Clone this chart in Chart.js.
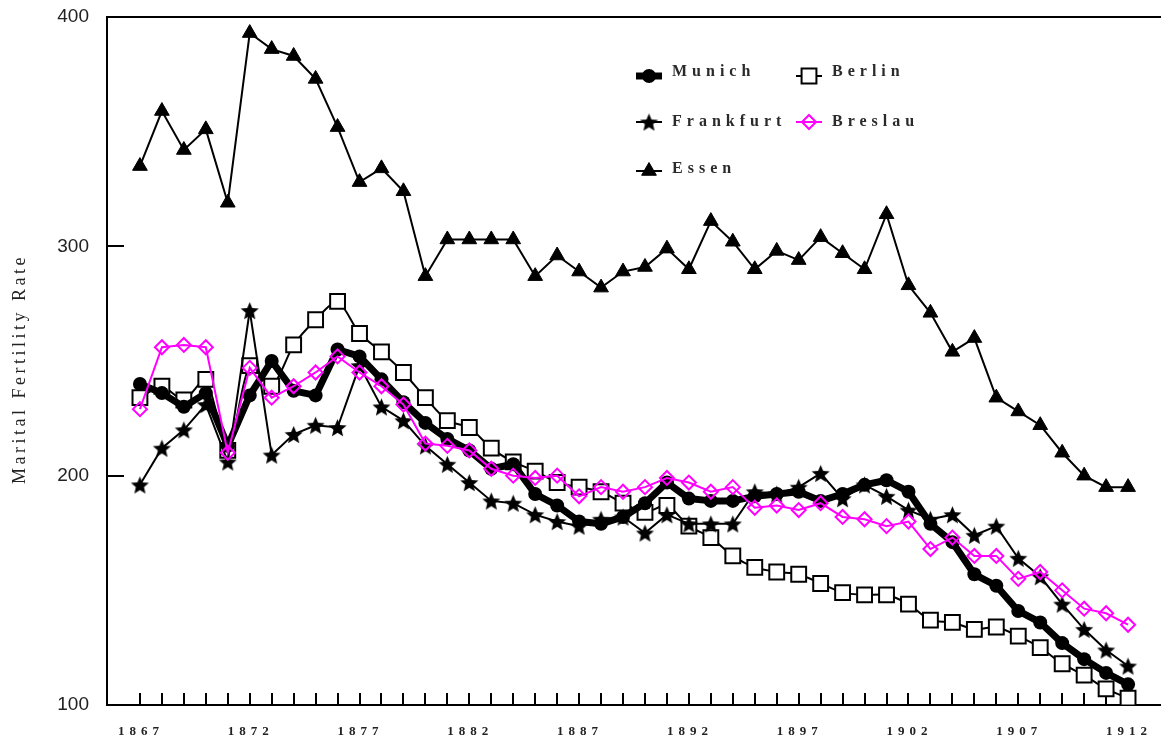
<!DOCTYPE html>
<html lang="en">
<head>
<meta charset="utf-8">
<title>Marital Fertility Rate</title>
<script src="https://cdn.jsdelivr.net/npm/chart.js@4.4.0/dist/chart.umd.min.js"></script>
<style>
  html, body { margin: 0; padding: 0; background: #fff; }
</style>
</head>
<body>
<canvas id="chart" width="1161" height="743"></canvas>
<script>
// years on the x axis, one point per year
const years = [1867, 1868, 1869, 1870, 1871, 1872, 1873, 1874, 1875, 1876, 1877, 1878, 1879, 1880, 1881,
               1882, 1883, 1884, 1885, 1886, 1887, 1888, 1889, 1890, 1891, 1892, 1893, 1894, 1895, 1896,
               1897, 1898, 1899, 1900, 1901, 1902, 1903, 1904, 1905, 1906, 1907, 1908, 1909, 1910, 1911, 1912];
const yearLabels = [1867, 1872, 1877, 1882, 1887, 1892, 1897, 1902, 1907, 1912];
const yTicks = [100, 200, 300, 400];

const munich = [240, 236, 230, 236, 213, 235, 250, 237, 235, 255, 252, 242, 232, 223, 216,
                211, 203, 205, 192, 187, 180, 179, 182, 188, 197, 190, 189, 189, 191, 192,
                193, 189, 192, 196, 198, 193, 179, 171, 157, 152, 141, 136, 127, 120, 114, 109];
const berlin = [234, 239, 233, 242, 211, 248, 239, 257, 268, 276, 262, 254, 245, 234, 224,
                221, 212, 206, 202, 197, 195, 193, 188, 184, 187, 178, 173, 165, 160, 158,
                157, 153, 149, 148, 148, 144, 137, 136, 133, 134, 130, 125, 118, 113, 107, 103];
const frankfurt = [196, 212, 220, 231, 206, 272, 209, 218, 222, 221, 248, 230, 224, 213, 205,
                   197, 189, 188, 183, 180, 178, 181, 182, 175, 183, 179, 179, 179, 193, 192,
                   195, 201, 190, 196, 191, 185, 181, 183, 174, 178, 164, 156, 144, 133, 124, 117];
const breslau = [229, 256, 257, 256, 210, 247, 234, 239, 245, 252, 245, 239, 231, 214, 213,
                 211, 203, 200, 199, 200, 191, 195, 193, 195, 199, 197, 193, 195, 186, 187,
                 185, 188, 182, 181, 178, 180, 168, 173, 165, 165, 155, 158, 150, 142, 140, 135];
const essen = [335, 359, 342, 351, 319, 393, 386, 383, 373, 352, 328, 334, 324, 287, 303,
               303, 303, 303, 287, 296, 289, 282, 289, 291, 299, 290, 311, 302, 290, 298,
               294, 304, 297, 290, 314, 283, 271, 254, 260, 234, 228, 222, 210, 200, 195, 195];

// filled five point star, chart.js only has the asterisk kind
function makeStar(r) {
  const c = document.createElement('canvas');
  const s = Math.ceil(r * 2) + 2;
  c.width = c.height = s;
  const g = c.getContext('2d');
  g.beginPath();
  for (let k = 0; k < 10; k++) {
    const rr = k % 2 ? r * 0.45 : r;
    const a = -Math.PI / 2 + k * Math.PI / 5;
    g.lineTo(s / 2 + rr * Math.cos(a), s / 2 + 1 + rr * Math.sin(a));
  }
  g.closePath();
  g.fillStyle = '#000';
  g.fill();
  return c;
}
const star = makeStar(9.5);

function pts(vals) {
  return years.map((yr, i) => ({ x: yr, y: vals[i] }));
}

const serif = '"Liberation Serif", "Times New Roman", serif';

const decor = {
  id: 'decor',
  beforeDatasetsDraw(chart) {
    const { ctx, chartArea: a, scales: { x, y } } = chart;
    ctx.save();
    ctx.strokeStyle = '#000';
    ctx.lineWidth = 2;
    ctx.beginPath();
    ctx.moveTo(a.left - 1, a.top);
    ctx.lineTo(a.right, a.top);
    // year ticks pointing up into the plot
    years.forEach(yr => {
      const px = Math.round(x.getPixelForValue(yr));
      ctx.moveTo(px, a.bottom);
      ctx.lineTo(px, a.bottom - 12);
    });
    // short ticks for 200 and 300
    [200, 300].forEach(v => {
      const py = Math.round(y.getPixelForValue(v));
      ctx.moveTo(a.left, py);
      ctx.lineTo(a.left + 17, py);
    });
    ctx.stroke();
    ctx.restore();
  },
  afterDraw(chart) {
    const { ctx, chartArea: a, scales: { x } } = chart;
    ctx.save();
    ctx.fillStyle = '#222';
    ctx.textBaseline = 'middle';

    // x labels, spaced out like the original
    ctx.font = 'bold 13px ' + serif;
    ctx.letterSpacing = '5px';
    ctx.textAlign = 'center';
    yearLabels.forEach(yr => {
      ctx.fillText(String(yr), x.getPixelForValue(yr) + 1, 732);
    });

    // y title
    ctx.font = '18px ' + serif;
    ctx.letterSpacing = '3.5px';
    ctx.save();
    ctx.translate(20, 369);
    ctx.rotate(-Math.PI / 2);
    ctx.fillText('Marital Fertility Rate', 0, 0);
    ctx.restore();

    // legend, two columns inside the plot
    const items = [
      [0, 649, 76, 672, 72],
      [3, 809, 76, 832, 72],
      [1, 649, 122, 672, 122],
      [4, 809, 122, 832, 122],
      [2, 649, 171, 672, 169]
    ];
    ctx.font = 'bold 16px ' + serif;
    ctx.letterSpacing = '5px';
    ctx.textAlign = 'left';
    items.forEach(([di, sx, sy, tx, ty]) => {
      const ds = chart.data.datasets[di];
      ctx.strokeStyle = ds.borderColor;
      ctx.lineWidth = ds.borderWidth;
      ctx.beginPath();
      ctx.moveTo(sx - 13, sy);
      ctx.lineTo(sx + 13, sy);
      ctx.stroke();
      ctx.fillStyle = ds.pointBackgroundColor;
      ctx.strokeStyle = ds.borderColor;
      ctx.lineWidth = ds.pointBorderWidth;
      Chart.helpers.drawPoint(ctx, {
        pointStyle: ds.pointStyle, rotation: 0,
        radius: ds.pointRadius, borderWidth: ds.pointBorderWidth
      }, sx, sy);
      ctx.fillStyle = '#2a2a2a';
      ctx.fillText(ds.label, tx, ty);
    });
    ctx.restore();
  }
};

new Chart(document.getElementById('chart'), {
  type: 'line',
  data: {
    datasets: [
      {
        label: 'Munich', data: pts(munich), order: 2,
        borderColor: '#000', borderWidth: 7, borderJoinStyle: 'round',
        pointStyle: 'circle', pointRadius: 7, pointBackgroundColor: '#000', pointBorderWidth: 0
      },
      {
        label: 'Frankfurt', data: pts(frankfurt), order: 1,
        borderColor: '#000', borderWidth: 2,
        pointStyle: star, pointRadius: 8, pointBackgroundColor: '#000', pointBorderWidth: 0
      },
      {
        label: 'Essen', data: pts(essen), order: 4,
        borderColor: '#000', borderWidth: 2,
        pointStyle: 'triangle', pointRadius: 8.5, pointBackgroundColor: '#000', pointBorderWidth: 1
      },
      {
        label: 'Berlin', data: pts(berlin), order: 3, tension: 0.25,
        borderColor: '#000', borderWidth: 2,
        pointStyle: 'rect', pointRadius: 10.5, pointBackgroundColor: '#fff', pointBorderWidth: 2
      },
      {
        label: 'Breslau', data: pts(breslau), order: 0,
        borderColor: '#ff00ff', borderWidth: 2,
        pointStyle: 'rectRot', pointRadius: 7, pointBackgroundColor: 'rgba(0,0,0,0)', pointBorderWidth: 2
      }
    ]
  },
  options: {
    responsive: false,
    animation: false,
    events: [],
    layout: { autoPadding: false, padding: { top: 17, right: 0, bottom: 0, left: 0 } },
    plugins: { legend: { display: false }, tooltip: { enabled: false } },
    scales: {
      x: {
        type: 'linear', min: 1865.5, max: 1913.5,
        grid: { display: false, drawTicks: false },
        border: { display: true, color: '#000', width: 2 },
        ticks: { display: false },
        afterFit: s => { s.height = 38; }
      },
      y: {
        min: 100, max: 400,
        afterBuildTicks: s => { s.ticks = yTicks.map(v => ({ value: v })); },
        grid: { display: false, drawTicks: false },
        border: { display: true, color: '#000', width: 2 },
        ticks: {
          padding: 18, color: '#222',
          font: { family: '"Liberation Sans", Arial, sans-serif', size: 19 }
        },
        afterFit: s => {
          s.width = 107;
          // the label padding is horizontal here, keep it out of the top/bottom
          s.paddingTop = 10;
          s.paddingBottom = 10;
        }
      }
    }
  },
  plugins: [decor]
});
</script>
</body>
</html>
